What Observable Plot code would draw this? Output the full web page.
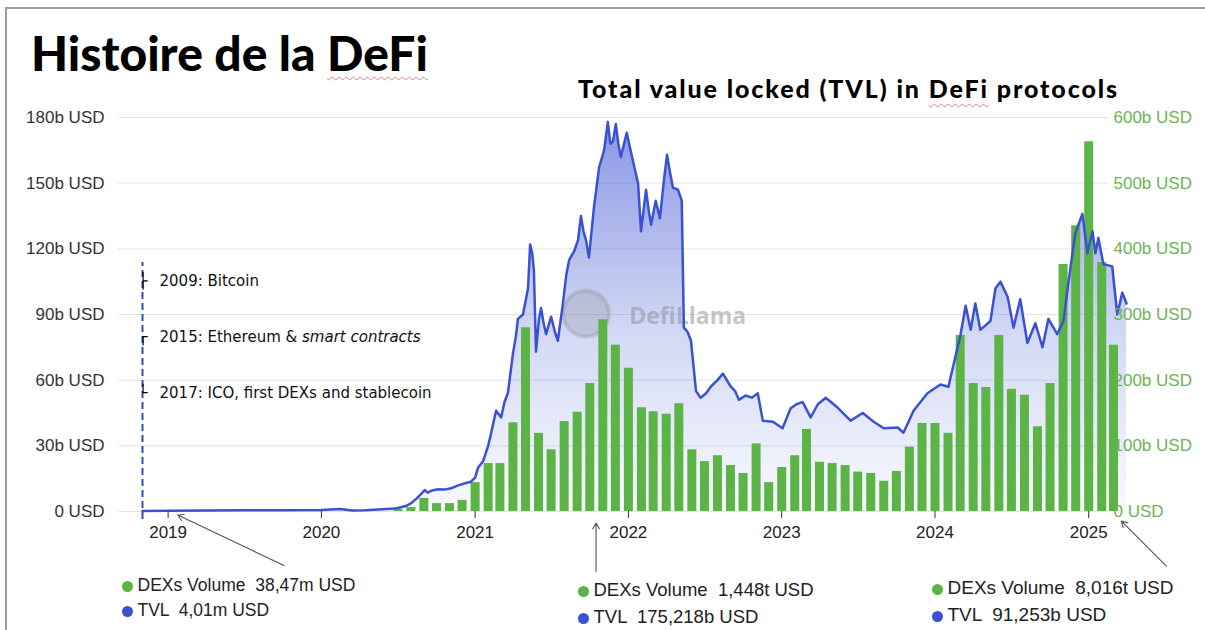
<!DOCTYPE html>
<html>
<head>
<meta charset="utf-8">
<script src="https://cdn.jsdelivr.net/npm/d3@7"></script>
<script src="https://cdn.jsdelivr.net/npm/@observablehq/plot@0.6"></script>
<style>
  html, body { margin: 0; padding: 0; background: #fff; }
  body { width: 1205px; height: 630px; overflow: hidden; position: relative; font-family: "Liberation Sans", Arial, sans-serif; }
  #frame { position: absolute; left: 5px; top: 7px; width: 1300px; height: 700px; border: 2px solid #9c9c9c; box-sizing: border-box; }
  #chart { position: absolute; left: 0; top: 0; }
  #title { position: absolute; left: 31px; top: 29px; font: 900 48px/48px Lato, "Open Sans", sans-serif; color: #000; white-space: nowrap; }
  #subtitle { position: absolute; left: 578px; top: 76px; font: 900 25px/25px Lato, "Open Sans", sans-serif; letter-spacing: 1.9px; color: #000; white-space: nowrap; }
  .spell { text-decoration: underline wavy rgba(225, 80, 80, 0.7); text-decoration-thickness: 1px; text-underline-offset: 5px; }
  .leg { position: absolute; line-height: 20px; color: #222; white-space: pre; }
  .dot { display: inline-block; width: 11px; height: 11px; border-radius: 50%; margin-right: 5px; vertical-align: -1px; }
</style>
</head>
<body>
<div id="frame"></div>
<div id="chart"></div>
<div id="title">Histoire de la <span class="spell">DeFi</span></div>
<div id="subtitle">Total value locked (TVL) in <span class="spell">DeFi</span> protocols</div>
<div id="legends"></div>
<script>
// ---------- DATA ----------
const leftTicks = [0, 30, 60, 90, 120, 150, 180];          // TVL axis, billions USD
const rightTicks = [0, 100, 200, 300, 400, 500, 600];       // DEX volume axis, billions USD
const yearTicks = ["2019", "2020", "2021", "2022", "2023", "2024", "2025"];

// Total value locked (billions USD)
const tvlSeries = [
  ["2018-11-01", 0.2], ["2019-01-01", 0.3], ["2019-04-01", 0.5], ["2019-07-01", 0.6], ["2019-10-01", 0.6],
  ["2020-01-01", 0.7], ["2020-02-14", 1.1], ["2020-03-15", 0.5], ["2020-04-15", 0.6], ["2020-05-15", 0.9],
  ["2020-06-15", 1.2], ["2020-07-01", 1.6], ["2020-07-20", 2.5], ["2020-08-02", 3.8], ["2020-08-15", 6],
  ["2020-08-28", 8.5], ["2020-09-03", 9.8], ["2020-09-10", 8.6], ["2020-09-20", 9.6], ["2020-10-05", 10.2],
  ["2020-10-20", 10.0], ["2020-11-05", 10.6], ["2020-11-20", 11.8], ["2020-12-06", 12.8], ["2020-12-22", 13.6],
  ["2021-01-01", 15.5], ["2021-01-08", 20], ["2021-01-20", 23], ["2021-02-01", 30], ["2021-02-08", 35.6],
  ["2021-02-14", 41], ["2021-02-20", 46], ["2021-03-04", 43], ["2021-03-12", 50], ["2021-03-20", 54],
  ["2021-04-01", 72], ["2021-04-08", 80], ["2021-04-13", 88], ["2021-04-25", 90], ["2021-05-07", 102],
  ["2021-05-12", 122], ["2021-05-17", 118], ["2021-05-21", 110], ["2021-05-26", 73], ["2021-06-02", 88],
  ["2021-06-07", 93], ["2021-06-13", 86], ["2021-06-19", 81], ["2021-07-01", 89], ["2021-07-10", 82],
  ["2021-07-17", 78], ["2021-07-29", 95], ["2021-08-06", 108], ["2021-08-13", 115], ["2021-08-25", 119],
  ["2021-09-03", 124], ["2021-09-10", 135], ["2021-09-16", 128], ["2021-09-22", 124], ["2021-09-29", 116],
  ["2021-10-11", 139], ["2021-10-23", 157], ["2021-11-04", 165], ["2021-11-09", 172], ["2021-11-13", 178],
  ["2021-11-19", 168], ["2021-11-25", 169], ["2021-12-02", 177], ["2021-12-08", 168], ["2021-12-14", 162],
  ["2021-12-28", 173], ["2022-01-05", 166], ["2022-01-12", 160], ["2022-01-24", 150], ["2022-01-31", 128],
  ["2022-02-12", 147], ["2022-02-18", 138], ["2022-02-24", 131], ["2022-03-07", 142], ["2022-03-17", 134],
  ["2022-03-27", 152], ["2022-04-03", 163], ["2022-04-10", 155], ["2022-04-17", 148], ["2022-04-29", 147],
  ["2022-05-08", 142], ["2022-05-13", 84], ["2022-05-22", 82], ["2022-05-30", 78], ["2022-06-11", 55],
  ["2022-06-22", 52], ["2022-07-05", 54], ["2022-07-16", 57], ["2022-08-01", 60], ["2022-08-14", 63],
  ["2022-09-02", 57], ["2022-09-12", 55], ["2022-09-21", 51], ["2022-10-07", 53], ["2022-10-22", 52],
  ["2022-11-05", 54], ["2022-11-17", 41.5], ["2022-12-11", 41], ["2023-01-03", 38], ["2023-01-22", 47],
  ["2023-02-05", 49], ["2023-02-20", 50], ["2023-03-11", 43], ["2023-03-28", 49], ["2023-04-16", 52],
  ["2023-05-14", 47.5], ["2023-06-14", 41.5], ["2023-07-13", 45], ["2023-08-08", 41], ["2023-09-01", 38],
  ["2023-10-04", 38.4], ["2023-10-18", 36], ["2023-11-11", 46], ["2023-12-14", 54], ["2024-01-14", 58],
  ["2024-02-02", 57], ["2024-02-19", 71], ["2024-03-02", 81], ["2024-03-14", 94], ["2024-03-26", 83],
  ["2024-04-06", 95], ["2024-04-18", 83], ["2024-05-12", 87], ["2024-05-24", 102], ["2024-06-05", 105],
  ["2024-06-22", 98], ["2024-07-06", 84], ["2024-07-22", 97], ["2024-08-08", 77], ["2024-08-27", 86],
  ["2024-09-13", 75], ["2024-09-27", 88], ["2024-10-18", 81], ["2024-11-02", 87], ["2024-11-14", 105],
  ["2024-11-30", 127], ["2024-12-17", 136], ["2024-12-29", 118], ["2025-01-10", 128], ["2025-01-17", 118],
  ["2025-01-24", 125], ["2025-02-05", 113], ["2025-02-26", 112], ["2025-03-10", 90], ["2025-03-22", 100],
  ["2025-04-01", 95]
];

// Monthly DEX volume (billions USD, right axis)
const dexMonths = [
  "2020-07","2020-08","2020-09","2020-10","2020-11","2020-12",
  "2021-01","2021-02","2021-03","2021-04","2021-05","2021-06","2021-07","2021-08","2021-09","2021-10","2021-11","2021-12",
  "2022-01","2022-02","2022-03","2022-04","2022-05","2022-06","2022-07","2022-08","2022-09","2022-10","2022-11","2022-12",
  "2023-01","2023-02","2023-03","2023-04","2023-05","2023-06","2023-07","2023-08","2023-09","2023-10","2023-11","2023-12",
  "2024-01","2024-02","2024-03","2024-04","2024-05","2024-06","2024-07","2024-08","2024-09","2024-10","2024-11","2024-12",
  "2025-01","2025-02","2025-03"
];
const dexVolume = [
  3, 6, 20, 12, 12, 17,
  44, 73, 73, 135, 280, 119, 94, 137, 151, 195, 292, 253,
  218, 158, 152, 148, 164, 94, 76, 85, 70, 58, 103, 44,
  67, 85, 125, 75, 73, 70, 60, 58, 46, 61, 98, 134,
  134, 119, 268, 195, 189, 268, 186, 177, 129, 195, 376, 435,
  563, 379, 253
];

// Timeline annotations (left, along dashed line)
const eventLabels = ["2009: Bitcoin", "2015: Ethereum & smart contracts", "2017: ICO, first DEXs and stablecoin"];
const eventLevels = [105, 79.5, 54];   // TVL-axis level of each label
const eventGlyphs = ["├", "┌", "└"];
const timelineSpan = [-3.6, 113.7];

// Tooltip-style notes below the axis
const notes = [
  { dex: "38,47m USD", tvl: "4,01m USD", from: ["2019-10-04", -24.7], to: ["2019-01-24", -1.6] },
  { dex: "1,448t USD", tvl: "175,218b USD", from: ["2021-10-16", -27.5], to: ["2021-10-16", -5.3] },
  { dex: "8,016t USD", tvl: "91,253b USD", from: ["2025-07-05", -25.0], to: ["2025-03-20", -4.4] }
];
// [dot x, row1 centre, row2 centre, font size]
const noteBoxes = [[127, 585, 610, 17.5], [583, 590, 617, 18.5], [937, 588, 615, 19]];

const watermark = { date: "2021-09-22", level: 90.4, textDate: "2022-01-03", textLevel: 89 };

// ---------- CHART ----------
const parseDay = d3.utcParse("%Y-%m-%d");
const parseMonth = d3.utcParse("%Y-%m");
const ratio = leftTicks[leftTicks.length - 1] / rightTicks[rightTicks.length - 1];
const tvl = tvlSeries.map(([d, v]) => ({ date: parseDay(d), value: v }));
const dex = dexMonths.map((m, i) => ({ date: parseMonth(m), value: dexVolume[i] * ratio }));
const events = eventLabels.map((label, i) => ({ label, level: eventLevels[i], glyph: eventGlyphs[i] }));
const start = parseDay("2018-11-01");
const end = parseDay("2025-04-01");

const blue = "#3a52d2";
const green = "#5cb346";

const chart = Plot.plot({
  width: 1205,
  height: 630,
  marginTop: 117,
  marginBottom: 119,
  marginLeft: 142,
  marginRight: 79,
  x: { type: "utc", domain: [start, end] },
  y: { domain: [0, 180] },
  style: { fontFamily: "'Liberation Sans', Arial, sans-serif", fontSize: "17px", color: "#333", background: "transparent", overflow: "visible" },
  marks: [
    Plot.ruleY(leftTicks, { stroke: "#e4e4e4", strokeWidth: 1, insetLeft: -24, insetRight: 18 }),
    Plot.areaY(tvl, { x: "date", y: "value", fill: "url(#tvlGrad)" }),
    Plot.dot([watermark], { x: d => parseDay(d.date), y: "level", r: 23, fill: "#8c8c8c", fillOpacity: 0.25, stroke: "#8c8c8c", strokeOpacity: 0.3, strokeWidth: 4 }),
    Plot.text([watermark], { x: d => parseDay(d.textDate), y: "textLevel", text: () => "DefiLlama", textAnchor: "start", fontSize: 23, fontWeight: 700, fontFamily: "'Open Sans', sans-serif", fill: "#8c8c8c", fillOpacity: 0.5 }),
    Plot.ruleX(dex, { x: "date", y1: 0, y2: "value", stroke: green, strokeWidth: 9 }),
    Plot.lineY(tvl, { x: "date", y: "value", stroke: blue, strokeWidth: 2.5, strokeLinejoin: "round" }),
    Plot.ruleX([start], { y1: timelineSpan[0], y2: timelineSpan[1], stroke: "#2f4bc8", strokeWidth: 2, strokeDasharray: "7,4" }),
    Plot.text(events, { x: () => start, y: "level", text: "glyph", textAnchor: "start", dx: -4, fontSize: 15, fontWeight: 700, fontFamily: "'DejaVu Sans Mono', 'DejaVu Sans', monospace", fill: "#000" }),
    Plot.text(events, { x: () => start, y: "level", text: "label", textAnchor: "start", dx: 17, fontSize: 15, fontFamily: "'DejaVu Sans', sans-serif", fill: "#111" }),
    Plot.arrow(notes, {
      x1: d => parseDay(d.from[0]), y1: d => d.from[1],
      x2: d => parseDay(d.to[0]), y2: d => d.to[1],
      stroke: "#555", strokeWidth: 1.1, headLength: 9
    }),
    Plot.axisY({ anchor: "left", ticks: leftTicks, tickSize: 0, tickPadding: 38, fontSize: 17, fill: "#333",
      tickFormat: d => d === 0 ? "0 USD" : `${d}b USD` }),
    Plot.axisY({ anchor: "right", ticks: leftTicks, tickSize: 0, tickPadding: -13, fontSize: 17, fill: "#6db353",
      tickFormat: d => { const v = rightTicks[leftTicks.indexOf(d)]; return v === 0 ? "0 USD" : `${v}b USD`; } }),
    Plot.axisX({ ticks: yearTicks.map(y => d3.utcParse("%Y")(y)), tickFormat: d3.utcFormat("%Y"), tickSize: 7, tickPadding: 7, fontSize: 17, stroke: "#333", fill: "#222" })
  ]
});

// gradient for the TVL area
const svgSel = d3.select(chart);
const defs = svgSel.insert("defs", ":first-child");
const grad = defs.append("linearGradient").attr("id", "tvlGrad").attr("x1", 0).attr("y1", 0).attr("x2", 0).attr("y2", 1);
grad.append("stop").attr("offset", "0%").attr("stop-color", "#3a52d2").attr("stop-opacity", 0.6);
grad.append("stop").attr("offset", "55%").attr("stop-color", "#3a52d2").attr("stop-opacity", 0.22);
grad.append("stop").attr("offset", "100%").attr("stop-color", "#3a52d2").attr("stop-opacity", 0.03);

// italic "smart contracts"
svgSel.selectAll("text").filter(function () { return this.textContent === eventLabels[1]; }).each(function () {
  const t = d3.select(this);
  const [a] = eventLabels[1].split("smart contracts");
  t.text(null);
  t.append("tspan").text(a);
  t.append("tspan").attr("font-style", "italic").text("smart contracts");
});

document.getElementById("chart").appendChild(chart);

// legends under the axis
const legends = document.getElementById("legends");
notes.forEach((n, i) => {
  const [dotX, y1, y2, fs] = noteBoxes[i];
  [[`DEXs Volume  ${n.dex}`, green, y1], [`TVL  ${n.tvl}`, blue, y2]].forEach(([txt, col, cy]) => {
    const el = document.createElement("div");
    el.className = "leg";
    el.style.fontSize = fs + "px";
    el.style.left = (dotX - 5.5) + "px";
    el.style.top = (cy - 10) + "px";
    el.innerHTML = `<span class="dot" style="background:${col}"></span>${txt}`;
    legends.appendChild(el);
  });
});
</script>
</body>
</html>
